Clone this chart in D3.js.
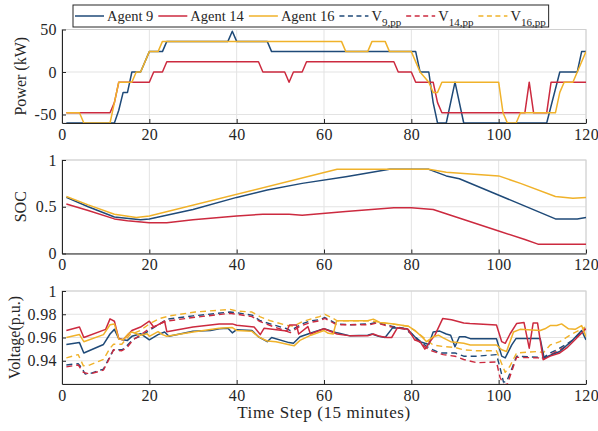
<!DOCTYPE html>
<html>
<head>
<meta charset="utf-8">
<script src="https://cdn.jsdelivr.net/npm/d3@7"></script>
<style>
  body { margin: 0; background: #fff; }
  text { font-family: "Liberation Serif", "Times New Roman", serif; fill: #262626; }
  .tick text { font-size: 16px; letter-spacing: 0.4px; }
</style>
</head>
<body>
<svg id="chart" width="598" height="431"></svg>
<script>
// ---- data: [time step, value] break points ----
const powerAgent9 = [[1,-60],[12,-60],[13,-45],[14,-24],[15,-24],[16,0],[18,0],[20,24],[23,24],[24,36],[38,36],[39,48],[40,36],[47,36],[48,24],[81,24],[82,0],[84,0],[85,-36],[86,-60],[88,-60],[90,-12],[92,-60],[111,-60],[114,0],[118,0],[119,24],[120,24]];
const powerAgent14 = [[1,-48],[11,-48],[12,-36],[13,-12],[20,-12],[21,0],[23,0],[24,12],[45,12],[46,0],[51,0],[52,-12],[53,0],[55,0],[56,12],[76,12],[77,0],[80,0],[81,-12],[85,-12],[86,-36],[87,-48],[106,-48],[107,-12],[108,-48],[111,-48],[112,-12],[120,-12]];
const powerAgent16 = [[1,-48],[4,-48],[5,-60],[11,-60],[13,-12],[16,-12],[17,0],[18,0],[20,24],[22,24],[23,36],[64,36],[65,24],[70,24],[71,36],[74,36],[75,24],[80,24],[82,0],[84,-12],[85,-24],[86,-24],[87,-12],[100,-12],[101,-48],[102,-60],[104,-60],[105,-48],[113,-48],[114,-24],[115,-12],[117,-12],[120,24]];

const socAgent9 = [[1,0.6],[6,0.5],[12,0.39],[18,0.36],[20,0.37],[30,0.47],[40,0.6],[47,0.68],[55,0.75],[65,0.82],[75,0.9],[84,0.9],[88,0.83],[91,0.8],[113,0.37],[118,0.37],[120,0.385]];
const socAgent14 = [[1,0.53],[6,0.46],[12,0.37],[15,0.35],[20,0.33],[24,0.33],[30,0.36],[40,0.4],[46,0.42],[52,0.42],[55,0.41],[65,0.45],[76,0.49],[80,0.49],[85,0.47],[100,0.24],[106,0.15],[109,0.1],[120,0.1]];
const socAgent16 = [[1,0.61],[6,0.52],[12,0.42],[17,0.385],[20,0.4],[63,0.9],[84,0.9],[88,0.87],[100,0.83],[105,0.75],[113,0.61],[117,0.59],[120,0.6]];

const voltAgent9 = [[1,0.954],[4,0.9556],[5,0.9467],[9.5,0.954],[11,0.963],[12,0.967],[13,0.959],[14,0.958],[15,0.9575],[16,0.961],[18,0.9633],[20,0.958],[22,0.9625],[23.5,0.9647],[24.5,0.961],[30,0.9653],[34,0.966],[36,0.9675],[38,0.968],[39,0.964],[40,0.9667],[43.5,0.966],[45,0.9606],[47,0.9564],[48,0.96],[52,0.9556],[53,0.955],[54.5,0.9606],[57,0.9639],[60,0.9675],[63,0.964],[66,0.9614],[70,0.962],[71,0.963],[72.5,0.961],[74,0.96],[75.7,0.9683],[79,0.9675],[80.8,0.9606],[82,0.9564],[84,0.954],[85,0.9647],[86.5,0.9655],[88,0.963],[89,0.962],[90,0.952],[91,0.9606],[92.3,0.9606],[93.5,0.959],[99.5,0.959],[100.7,0.944],[101.5,0.9425],[103,0.9536],[104,0.9592],[109.5,0.9592],[110.4,0.9425],[112,0.945],[114,0.948],[117,0.958],[119,0.966],[120,0.958]];
const voltAgent14 = [[1,0.966],[4,0.969],[5,0.96],[10,0.967],[11,0.976],[12,0.974],[13,0.959],[14,0.958],[16,0.966],[18,0.969],[20,0.974],[21,0.969],[23.5,0.974],[24,0.965],[30,0.969],[36,0.9717],[39,0.9717],[40,0.9705],[44,0.969],[45.4,0.9625],[46.3,0.968],[51.5,0.9656],[52.1,0.9708],[53.7,0.9708],[54.2,0.963],[56.3,0.9694],[56.9,0.963],[60,0.9675],[63,0.963],[66,0.9614],[70,0.9614],[71.3,0.963],[72.8,0.961],[74.4,0.96],[75.5,0.96],[76.8,0.9683],[79.3,0.967],[80.8,0.9578],[82,0.9564],[83.1,0.95],[84.3,0.9564],[85.4,0.962],[87.2,0.9764],[89.2,0.9753],[92,0.9725],[93.4,0.972],[99.5,0.9708],[100.7,0.9564],[101.5,0.955],[102.6,0.963],[104.1,0.972],[105.8,0.973],[107,0.9508],[107.9,0.9725],[108.9,0.9725],[110.2,0.941],[111.8,0.944],[114,0.9467],[115.6,0.951],[120,0.9675]];
const voltAgent16 = [[1,0.96],[4,0.9625],[5,0.9564],[9.5,0.9625],[11,0.971],[12,0.9717],[13,0.9586],[14,0.958],[15.2,0.9633],[16,0.9647],[18,0.962],[19.5,0.9633],[20,0.961],[22,0.965],[23,0.9625],[24,0.961],[30,0.9647],[36,0.968],[39,0.9686],[40,0.9661],[43.5,0.9653],[45,0.9606],[47,0.957],[49,0.9564],[52.3,0.9536],[53.2,0.953],[54.6,0.9578],[57,0.962],[60,0.966],[61,0.9636],[62.1,0.963],[62.9,0.9744],[65,0.9744],[70,0.9744],[71.3,0.9758],[72.8,0.973],[76,0.9717],[79.3,0.9697],[80.8,0.9661],[82.4,0.9606],[83.5,0.9564],[85,0.9606],[86.2,0.962],[87.3,0.9597],[89,0.9564],[92,0.955],[93.5,0.9536],[99.5,0.9536],[100.7,0.9494],[101.8,0.948],[103.4,0.9647],[104.9,0.967],[109.5,0.966],[110.6,0.9675],[111.8,0.9703],[113.3,0.9703],[114.4,0.9717],[116,0.9675],[117.5,0.967],[119,0.9703],[120,0.9606]];

const voltPP9 = [[1,0.9364],[3.7,0.9375],[4.5,0.934],[5.3,0.9286],[6.4,0.929],[9.5,0.9328],[11,0.9439],[11.8,0.9494],[13.7,0.9494],[14.4,0.951],[16.3,0.9586],[17.9,0.961],[20,0.9661],[22.4,0.9717],[24,0.9758],[30,0.9786],[38.5,0.9819],[40,0.9814],[43.5,0.9792],[45.4,0.9744],[47.7,0.9717],[51.5,0.9675],[52.3,0.966],[55,0.9717],[56.9,0.9744],[59,0.9753],[60.2,0.9772],[62.9,0.9717],[66,0.971],[70.5,0.9717],[72,0.973],[75.5,0.9697],[78.2,0.968],[80.5,0.962],[82,0.957],[83.5,0.9522],[85,0.9494],[86.6,0.9467],[90,0.9467],[92,0.9439],[95,0.9439],[99.5,0.9453],[100.3,0.9342],[101.1,0.9217],[101.8,0.922],[103,0.933],[104.1,0.9439],[109.1,0.943],[110.2,0.9425],[111.8,0.9467],[113.3,0.9494],[115.2,0.9536],[117.1,0.958],[119.8,0.9675]];
const voltPP14 = [[1,0.9347],[3.7,0.9364],[4.9,0.93],[6.4,0.9286],[9.5,0.932],[11,0.943],[11.8,0.9494],[13.7,0.9486],[14.8,0.951],[16.3,0.958],[20,0.9675],[23.8,0.974],[30,0.9772],[38.5,0.9808],[40,0.98],[43.5,0.978],[45.4,0.9736],[47.7,0.9703],[51.5,0.9653],[52.3,0.9642],[54.5,0.9697],[56.9,0.973],[59,0.9744],[60.2,0.9764],[62.9,0.971],[70.5,0.971],[72,0.9725],[75.5,0.969],[79,0.967],[80.5,0.9606],[83.5,0.9508],[85,0.948],[87.3,0.9453],[90,0.9439],[92,0.9411],[95,0.9383],[99.5,0.9389],[100.3,0.9258],[101.2,0.919],[102,0.92],[103,0.931],[104.1,0.943],[109.1,0.9425],[110.2,0.941],[111.8,0.945],[115.2,0.952],[119.8,0.9675]];
const voltPP16 = [[1,0.9425],[3.7,0.9453],[4.9,0.9356],[6.4,0.9364],[9.5,0.9411],[11,0.9508],[11.8,0.9542],[13.7,0.9542],[15.6,0.9625],[17.9,0.966],[20,0.9717],[22.4,0.9764],[24.7,0.9786],[30.5,0.9819],[38.5,0.9842],[40,0.9828],[43.5,0.9819],[45.4,0.9778],[47.7,0.9744],[51.5,0.9703],[53,0.9697],[55,0.9736],[56.9,0.9758],[59,0.978],[60.2,0.98],[62.1,0.9764],[63,0.9744],[70.5,0.9744],[74.4,0.9722],[79.3,0.9697],[81.2,0.9647],[83.5,0.9578],[85,0.9536],[87.3,0.9522],[90,0.9514],[92,0.9494],[95,0.9486],[99.5,0.9486],[100.3,0.9411],[101.5,0.93],[102.6,0.9355],[104.1,0.9467],[109.1,0.948],[110.2,0.9467],[111.8,0.9536],[114,0.9564],[116.3,0.962],[119.8,0.9689]];

const xTicks = [0, 20, 40, 60, 80, 100, 120];
const powerTicks = [-50, 0, 50];
const socTicks = [0, 0.5, 1];
const voltTicks = [0.94, 0.96, 0.98, 1];

const legendNames = [
  { name: "Agent 9", color: "#1f4a78", dashed: false },
  { name: "Agent 14", color: "#cc2a3f", dashed: false },
  { name: "Agent 16", color: "#f0b22a", dashed: false },
  { name: "V", sub: "9,pp", color: "#1f4a78", dashed: true },
  { name: "V", sub: "14,pp", color: "#cc2a3f", dashed: true },
  { name: "V", sub: "16,pp", color: "#f0b22a", dashed: true }
];

// ---- layout ----
const svg = d3.select("#chart");
const left = 62, right = 586;
const x = d3.scaleLinear().domain([0, 120]).range([left, right]);

const panels = [
  { top: 29.5, bottom: 123, domain: [-60, 50], ticks: powerTicks, label: "Power (kW)", labelX: 26,
    series: [[powerAgent9, 0], [powerAgent14, 1], [powerAgent16, 2]] },
  { top: 160, bottom: 253.5, domain: [0, 1], ticks: socTicks, label: "SOC", labelX: 26,
    series: [[socAgent9, 0], [socAgent14, 1], [socAgent16, 2]] },
  { top: 291, bottom: 384, domain: [0.92, 1], ticks: voltTicks, label: "Voltage(p.u.)", labelX: 20,
    series: [[voltPP9, 3], [voltPP14, 4], [voltPP16, 5], [voltAgent9, 0], [voltAgent14, 1], [voltAgent16, 2]] }
];

panels.forEach((p, i) => {
  const y = d3.scaleLinear().domain(p.domain).range([p.bottom, p.top]);
  const g = svg.append("g");

  // grid
  g.selectAll(".vgrid").data(xTicks).join("line")
    .attr("x1", d => x(d)).attr("x2", d => x(d))
    .attr("y1", p.top).attr("y2", p.bottom)
    .attr("stroke", "#e3e3e3").attr("stroke-width", 1);
  g.selectAll(".hgrid").data(p.ticks).join("line")
    .attr("x1", left).attr("x2", right)
    .attr("y1", d => y(d)).attr("y2", d => y(d))
    .attr("stroke", "#e3e3e3").attr("stroke-width", 1);

  // box
  g.append("rect")
    .attr("x", left).attr("y", p.top)
    .attr("width", right - left).attr("height", p.bottom - p.top)
    .attr("fill", "none").attr("stroke", "#d0d0d0");

  // lines
  const clipId = "clip" + i;
  svg.append("clipPath").attr("id", clipId).append("rect")
    .attr("x", left).attr("y", p.top - 1)
    .attr("width", right - left).attr("height", p.bottom - p.top + 2);

  const line = d3.line().x(d => x(d[0])).y(d => y(d[1]));
  g.append("g").attr("clip-path", `url(#${clipId})`)
    .selectAll("path").data(p.series).join("path")
    .attr("d", d => line(d[0]))
    .attr("fill", "none")
    .attr("stroke", d => legendNames[d[1]].color)
    .attr("stroke-width", d => legendNames[d[1]].dashed ? 1.4 : 1.5)
    .attr("stroke-dasharray", d => legendNames[d[1]].dashed ? "6,4" : null)
    .attr("stroke-linejoin", "round");

  // axes
  const xAxis = g.append("g").attr("transform", `translate(0,${p.bottom})`)
    .call(d3.axisBottom(x).tickValues(xTicks).tickSizeInner(-4).tickSizeOuter(0).tickPadding(5.5));
  const yAxis = g.append("g").attr("transform", `translate(${left},0)`)
    .call(d3.axisLeft(y).tickValues(p.ticks).tickSizeInner(-4).tickSizeOuter(0).tickPadding(5)
      .tickFormat(d => String(d)));
  [xAxis, yAxis].forEach(a => {
    a.attr("font-family", null).attr("font-size", null);
    a.select(".domain").attr("stroke", "#262626");
    a.selectAll(".tick line").attr("stroke", "#262626");
  });

  g.append("text")
    .attr("transform", `translate(${p.labelX},${(p.top + p.bottom) / 2}) rotate(-90)`)
    .attr("text-anchor", "middle")
    .attr("font-size", 16)
    .text(p.label);
});

svg.append("text")
  .attr("x", (left + right) / 2).attr("y", 418)
  .attr("text-anchor", "middle")
  .attr("font-size", 17)
  .attr("letter-spacing", 0.6)
  .text("Time Step (15 minutes)");

// ---- legend ----
const legend = svg.append("g");
const box = legend.append("rect")
  .attr("y", 5).attr("height", 22)
  .attr("fill", "#fff").attr("stroke", "#262626").attr("stroke-width", 1);

let cx = 75;
legendNames.forEach(d => {
  legend.append("line")
    .attr("x1", cx).attr("x2", cx + 29)
    .attr("y1", 16).attr("y2", 16)
    .attr("stroke", d.color).attr("stroke-width", 1.5)
    .attr("stroke-dasharray", d.dashed ? "5,3.5" : null);
  const t = legend.append("text")
    .attr("x", cx + 32).attr("y", 20.5)
    .attr("font-size", 14.5)
    .text(d.name);
  if (d.sub) {
    t.append("tspan").attr("dy", 5).attr("font-size", 11).text(d.sub);
  }
  cx += 32 + t.node().getComputedTextLength() + 5;
});
box.attr("x", 73).attr("width", cx - 73 - 2);
</script>
</body>
</html>
